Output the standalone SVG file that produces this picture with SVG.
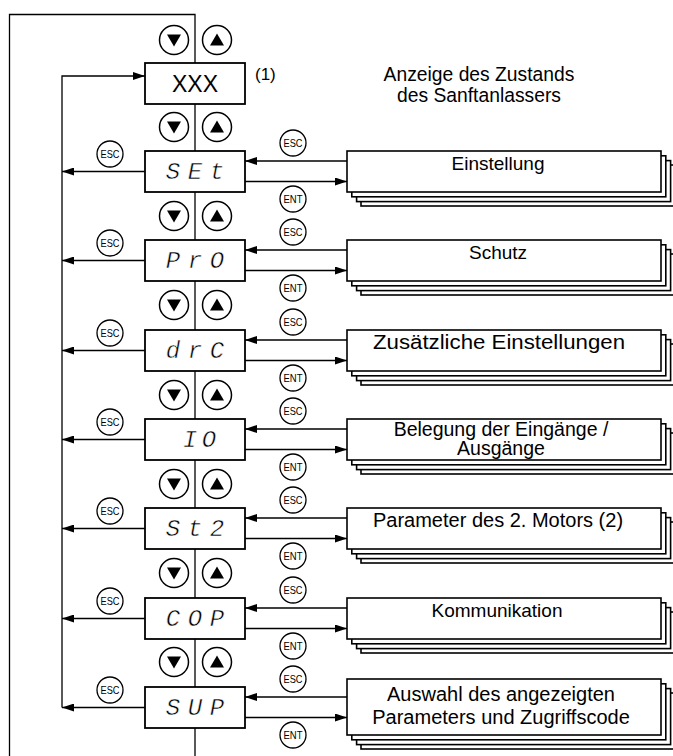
<svg xmlns="http://www.w3.org/2000/svg" xmlns:xlink="http://www.w3.org/1999/xlink" width="673" height="756" viewBox="0 0 673 756">
<style>
.ln{stroke:#000;stroke-width:1.3;fill:none}
.box{fill:#fff;stroke:#000;stroke-width:1.8}
.lbl{font-family:"Liberation Sans",Arial,sans-serif;fill:#000;text-anchor:middle}
.seg{font-family:"Liberation Mono","DejaVu Sans Mono",monospace;font-style:italic;font-size:24px;text-anchor:middle;fill:#000;stroke:#fff;stroke-width:0.5}
</style>
<defs>
<marker id="ah" markerWidth="12" markerHeight="8" refX="12" refY="4" orient="auto" markerUnits="userSpaceOnUse"><path d="M0,0 L12,4 L0,8 z" fill="#000"/></marker>
<g id="bd"><circle r="14.5" fill="#fff" stroke="#000" stroke-width="1.5"/><path d="M-7,-5.5 L7,-5.5 L0,6.5 z" fill="#000"/></g>
<g id="bu"><circle r="14.5" fill="#fff" stroke="#000" stroke-width="1.5"/><path d="M-7,5.5 L7,5.5 L0,-6.5 z" fill="#000"/></g>
<g id="esc"><circle r="13" fill="#fff" stroke="#000" stroke-width="1.3"/><text x="0" y="3.6" font-family="Liberation Sans,sans-serif" font-size="10.5" text-anchor="middle" textLength="19" lengthAdjust="spacingAndGlyphs">ESC</text></g>
<g id="ent"><circle r="13" fill="#fff" stroke="#000" stroke-width="1.3"/><text x="0" y="3.6" font-family="Liberation Sans,sans-serif" font-size="10.5" text-anchor="middle" textLength="19" lengthAdjust="spacingAndGlyphs">ENT</text></g>
<g id="stk41" fill="#fff" stroke="#000" stroke-width="1.6">
<rect x="14" y="14" width="314" height="41"/>
<rect x="9.6" y="9.6" width="314" height="41"/>
<rect x="4.8" y="4.8" width="314" height="41"/>
<rect x="0" y="0" width="314" height="41"/>
</g>
<g id="stk56" fill="#fff" stroke="#000" stroke-width="1.6">
<rect x="14" y="14" width="314" height="56"/>
<rect x="9.6" y="9.6" width="314" height="56"/>
<rect x="4.8" y="4.8" width="314" height="56"/>
<rect x="0" y="0" width="314" height="56"/>
</g>
</defs>
<rect width="673" height="756" fill="#fff"/>

<g id="connectors" class="ln">
<path d="M9.5,756 V14.5 H195 V756"/>
<path d="M62,707.5 V76 H145" marker-end="url(#ah)"/>
<path d="M145,171.5 H62" marker-end="url(#ah)"/>
<path d="M145,260.5 H62" marker-end="url(#ah)"/>
<path d="M145,350.5 H62" marker-end="url(#ah)"/>
<path d="M145,439.5 H62" marker-end="url(#ah)"/>
<path d="M145,528.5 H62" marker-end="url(#ah)"/>
<path d="M145,618.5 H62" marker-end="url(#ah)"/>
<path d="M145,707.5 H62" marker-end="url(#ah)"/>
<path d="M347,161 H245" marker-end="url(#ah)"/>
<path d="M245,181.5 H347" marker-end="url(#ah)"/>
<path d="M347,250 H245" marker-end="url(#ah)"/>
<path d="M245,270.5 H347" marker-end="url(#ah)"/>
<path d="M347,340 H245" marker-end="url(#ah)"/>
<path d="M245,360.5 H347" marker-end="url(#ah)"/>
<path d="M347,429 H245" marker-end="url(#ah)"/>
<path d="M245,449.5 H347" marker-end="url(#ah)"/>
<path d="M347,518 H245" marker-end="url(#ah)"/>
<path d="M245,538.5 H347" marker-end="url(#ah)"/>
<path d="M347,608 H245" marker-end="url(#ah)"/>
<path d="M245,628.5 H347" marker-end="url(#ah)"/>
<path d="M347,697 H245" marker-end="url(#ah)"/>
<path d="M245,717.5 H347" marker-end="url(#ah)"/>
</g>

<g id="buttons">
<use href="#bd" x="174" y="40"/><use href="#bu" x="217" y="40"/>
<use href="#bd" x="174" y="127"/><use href="#bu" x="217" y="127"/>
<use href="#bd" x="174" y="216"/><use href="#bu" x="217" y="216"/>
<use href="#bd" x="174" y="305"/><use href="#bu" x="217" y="305"/>
<use href="#bd" x="174" y="395"/><use href="#bu" x="217" y="395"/>
<use href="#bd" x="174" y="484"/><use href="#bu" x="217" y="484"/>
<use href="#bd" x="174" y="573"/><use href="#bu" x="217" y="573"/>
<use href="#bd" x="174" y="662"/><use href="#bu" x="217" y="662"/>
</g>

<g id="keys">
<use href="#esc" x="110" y="154"/><use href="#esc" x="293" y="143"/><use href="#ent" x="293" y="199"/>
<use href="#esc" x="110" y="243"/><use href="#esc" x="293" y="232"/><use href="#ent" x="293" y="288"/>
<use href="#esc" x="110" y="333"/><use href="#esc" x="293" y="322"/><use href="#ent" x="293" y="378"/>
<use href="#esc" x="110" y="422"/><use href="#esc" x="293" y="411"/><use href="#ent" x="293" y="467"/>
<use href="#esc" x="110" y="511"/><use href="#esc" x="293" y="500"/><use href="#ent" x="293" y="556"/>
<use href="#esc" x="110" y="601"/><use href="#esc" x="293" y="590"/><use href="#ent" x="293" y="646"/>
<use href="#esc" x="110" y="690"/><use href="#esc" x="293" y="679"/><use href="#ent" x="293" y="735"/>
</g>

<g id="node-xxx">
<rect class="box" x="145" y="63" width="100" height="41"/>
<text class="lbl" x="195" y="92" font-size="23">XXX</text>
<text x="255" y="80" font-family="Liberation Sans,sans-serif" font-size="17">(1)</text>
</g>
<g id="title">
<text class="lbl" x="479" y="81" font-size="19.3">Anzeige des Zustands</text>
<text class="lbl" x="479" y="102" font-size="19.3">des Sanftanlassers</text>
</g>

<g id="node-set"><rect class="box" x="145" y="151" width="100" height="41"/><text class="seg" x="173 195 217" y="179">SEt</text></g>
<g id="node-pro"><rect class="box" x="145" y="240" width="100" height="41"/><text class="seg" x="173 195 217" y="268">PrO</text></g>
<g id="node-drc"><rect class="box" x="145" y="330" width="100" height="41"/><text class="seg" x="173 195 217" y="358">drC</text></g>
<g id="node-io"><rect class="box" x="145" y="419" width="100" height="41"/><text class="seg" x="190 209" y="447">IO</text></g>
<g id="node-st2"><rect class="box" x="145" y="508" width="100" height="41"/><text class="seg" x="173 195 217" y="536">St2</text></g>
<g id="node-cop"><rect class="box" x="145" y="598" width="100" height="41"/><text class="seg" x="173 195 217" y="626">COP</text></g>
<g id="node-sup"><rect class="box" x="145" y="687" width="100" height="41"/><text class="seg" x="173 195 217" y="715">SUP</text></g>

<g id="menu-set"><use href="#stk41" x="347" y="151"/><text class="lbl" x="498" y="170" font-size="19">Einstellung</text></g>
<g id="menu-pro"><use href="#stk41" x="347" y="240"/><text class="lbl" x="498" y="259" font-size="19">Schutz</text></g>
<g id="menu-drc"><use href="#stk41" x="347" y="330"/><text class="lbl" x="499" y="349" font-size="19.5" textLength="252" lengthAdjust="spacingAndGlyphs">Zusätzliche Einstellungen</text></g>
<g id="menu-io"><use href="#stk41" x="347" y="419"/><text class="lbl" x="501" y="435.5" font-size="19.5">Belegung der Eingänge /</text><text class="lbl" x="501" y="455" font-size="19.5">Ausgänge</text></g>
<g id="menu-st2"><use href="#stk41" x="347" y="508"/><text class="lbl" x="498" y="527" font-size="20">Parameter des 2. Motors (2)</text></g>
<g id="menu-cop"><use href="#stk41" x="347" y="598"/><text class="lbl" x="497" y="617" font-size="19">Kommunikation</text></g>
<g id="menu-sup"><use href="#stk56" x="347" y="679"/><text class="lbl" x="501" y="701" font-size="20">Auswahl des angezeigten</text><text class="lbl" x="501" y="724" font-size="20">Parameters und Zugriffscode</text></g>
</svg>
